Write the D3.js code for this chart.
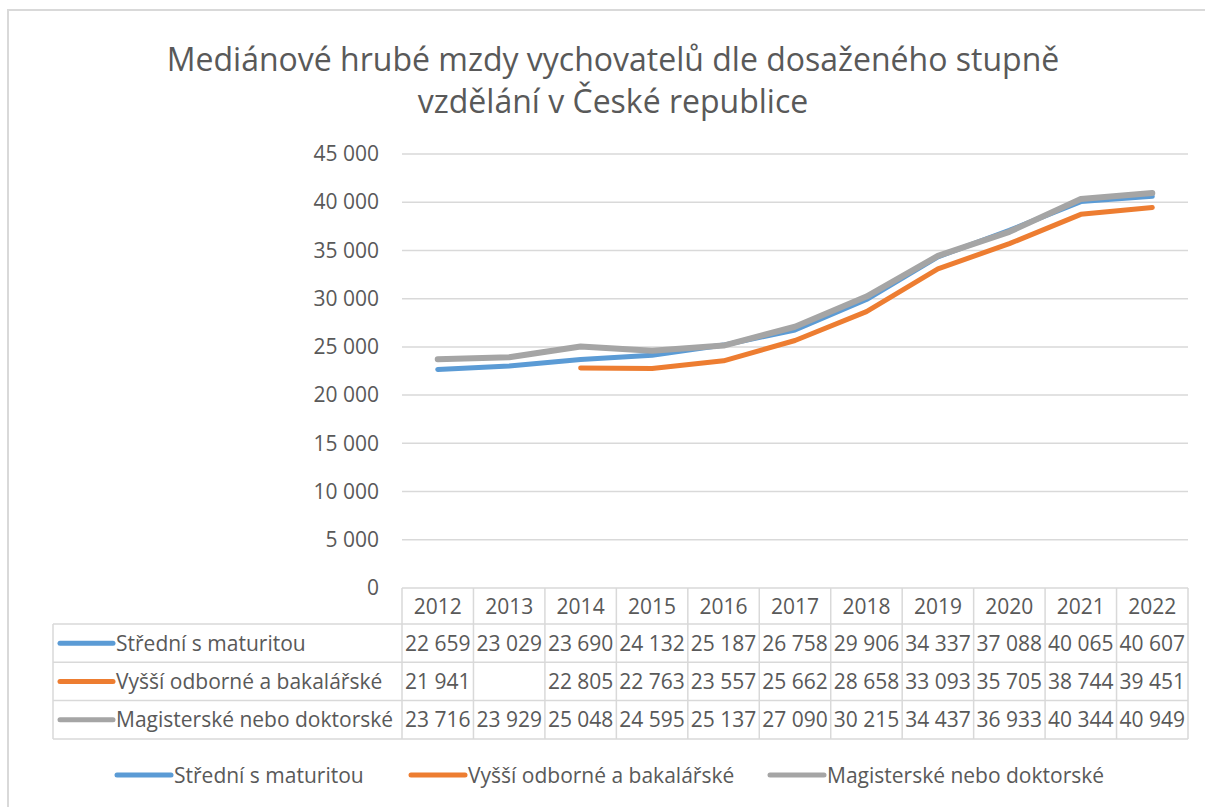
<!DOCTYPE html>
<html>
<head>
<meta charset="utf-8">
<script src="https://cdn.jsdelivr.net/npm/d3@7"></script>
<style>
  body { margin: 0; background: #fff; }
  text { font-family: "Open Sans", sans-serif; fill: #595959; }
</style>
</head>
<body>
<main></main>
<script>
const years = ["2012", "2013", "2014", "2015", "2016", "2017", "2018", "2019", "2020", "2021", "2022"]
const seriesNames = ["Střední s maturitou", "Vyšší odborné a bakalářské", "Magisterské nebo doktorské"]
const stredni = [22659, 23029, 23690, 24132, 25187, 26758, 29906, 34337, 37088, 40065, 40607]
const vyssi = [21941, null, 22805, 22763, 23557, 25662, 28658, 33093, 35705, 38744, 39451]
const magisterske = [23716, 23929, 25048, 24595, 25137, 27090, 30215, 34437, 36933, 40344, 40949]
const colors = ["#5B9BD5", "#ED7D31", "#A5A5A5"]
const yTicks = [0, 5000, 10000, 15000, 20000, 25000, 30000, 35000, 40000, 45000]
const titleLines = ["Mediánové hrubé mzdy vychovatelů dle dosaženého stupně", "vzdělání v České republice"]

const series = [stredni, vyssi, magisterske].map((values, i) => ({
  name: seriesNames[i],
  color: colors[i],
  values: values,
}))

const W = 1205
const H = 807
const plot = { left: 402, right: 1188, top: 154, bottom: 588 }
const headerH = 36
const rowH = 38.3
const tableLeft = 53

const locale = d3.formatLocale({ decimal: ",", thousands: " ", grouping: [3], currency: ["", ""] })
const fmt = locale.format(",d")

const svg = d3.select("main").append("svg").attr("width", W).attr("height", H)

// chart frame
svg.append("path")
  .attr("d", `M8,${H + 5} L8,10 L${W + 5},10`)
  .attr("fill", "none")
  .attr("stroke", "#d9d9d9")
  .attr("stroke-width", 2)

// title
svg.append("g")
  .selectAll("text")
  .data(titleLines)
  .enter()
  .append("text")
  .attr("x", 613)
  .attr("y", (d, i) => 71 + i * 42)
  .attr("text-anchor", "middle")
  .attr("font-size", "32px")
  .text((d) => d)

const x = d3.scaleBand().domain(years).range([plot.left, plot.right])
const y = d3.scaleLinear().domain([0, 45000]).range([plot.bottom, plot.top])

// gridlines
svg.append("g")
  .selectAll("line")
  .data(yTicks.slice(1))
  .enter()
  .append("line")
  .attr("x1", plot.left)
  .attr("x2", plot.right)
  .attr("y1", (d) => y(d))
  .attr("y2", (d) => y(d))
  .attr("stroke", "#d9d9d9")
  .attr("stroke-width", 1.5)

const yAxis = svg.append("g")
  .attr("transform", `translate(${plot.left - 23},0)`)
  .call(d3.axisLeft(y).tickValues(yTicks).tickFormat(fmt).tickSize(0).tickPadding(0))
yAxis.select(".domain").remove()
yAxis.selectAll("text")
  .attr("font-size", "21px")
  .attr("font-family", "Open Sans, sans-serif")
  .attr("fill", "#595959")
  .attr("dy", "0.32em")

// lines (a value with no defined neighbour is not drawn, as in the original)
const hasNeighbour = (arr, i) =>
  arr[i] != null && ((i > 0 && arr[i - 1] != null) || (i < arr.length - 1 && arr[i + 1] != null))

const line = d3.line()
  .x((d, i) => x(years[i]) + x.bandwidth() / 2)
  .y((d) => y(d))

svg.append("g")
  .selectAll("path")
  .data(series)
  .enter()
  .append("path")
  .attr("d", (d) => line.defined((v, i) => hasNeighbour(d.values, i))(d.values))
  .attr("fill", "none")
  .attr("stroke", (d) => d.color)
  .attr("stroke-width", (d, i) => (i === 2 ? 6 : 5))
  .attr("stroke-linecap", "round")
  .attr("stroke-linejoin", "round")

// data table
const table = svg.append("g").attr("class", "table")
const rowY = (k) => (k === 0 ? plot.bottom : plot.bottom + headerH + (k - 1) * rowH)
const tableBottom = rowY(4)
const border = "#d9d9d9"

table.append("line")
  .attr("x1", plot.left).attr("x2", plot.right)
  .attr("y1", plot.bottom).attr("y2", plot.bottom)
  .attr("stroke", border).attr("stroke-width", 1.5)
table.selectAll(".hline")
  .data([1, 2, 3, 4])
  .enter()
  .append("line")
  .attr("class", "hline")
  .attr("x1", tableLeft).attr("x2", plot.right)
  .attr("y1", (d) => rowY(d))
  .attr("y2", (d) => rowY(d))
  .attr("stroke", border).attr("stroke-width", 1.5)

table.selectAll(".vline")
  .data(years.concat(["end"]))
  .enter()
  .append("line")
  .attr("class", "vline")
  .attr("x1", (d, i) => plot.left + i * x.bandwidth())
  .attr("x2", (d, i) => plot.left + i * x.bandwidth())
  .attr("y1", plot.bottom).attr("y2", tableBottom)
  .attr("stroke", border).attr("stroke-width", 1.5)
table.append("line")
  .attr("x1", tableLeft).attr("x2", tableLeft)
  .attr("y1", rowY(1)).attr("y2", tableBottom)
  .attr("stroke", border).attr("stroke-width", 1.5)

table.selectAll(".year")
  .data(years)
  .enter()
  .append("text")
  .attr("class", "year")
  .attr("x", (d) => x(d) + x.bandwidth() / 2)
  .attr("y", plot.bottom + headerH / 2)
  .attr("dy", "0.36em")
  .attr("text-anchor", "middle")
  .attr("font-size", "21px")
  .text((d) => d)

const rows = table.selectAll(".row")
  .data(series)
  .enter()
  .append("g")
  .attr("class", "row")
  .attr("transform", (d, i) => `translate(0,${rowY(i + 1) + rowH / 2})`)

rows.append("line")
  .attr("x1", 60).attr("x2", 113)
  .attr("y1", 0).attr("y2", 0)
  .attr("stroke", (d) => d.color)
  .attr("stroke-width", 5)
  .attr("stroke-linecap", "round")

rows.append("text")
  .attr("x", 116)
  .attr("dy", "0.36em")
  .attr("font-size", "21px")
  .text((d) => d.name)

rows.selectAll(".val")
  .data((d) => d.values)
  .enter()
  .append("text")
  .attr("class", "val")
  .attr("x", (d, i) => x(years[i]) + x.bandwidth() / 2)
  .attr("dy", "0.36em")
  .attr("text-anchor", "middle")
  .attr("font-size", "21px")
  .text((d) => (d == null ? "" : fmt(d)))

// legend
const legendX = [117, 411, 770]
const legend = svg.append("g")
  .selectAll("g")
  .data(series)
  .enter()
  .append("g")
  .attr("transform", (d, i) => `translate(${legendX[i]},775)`)

legend.append("line")
  .attr("x1", 0).attr("x2", 54)
  .attr("stroke", (d) => d.color)
  .attr("stroke-width", 5)
  .attr("stroke-linecap", "round")

legend.append("text")
  .attr("x", 57)
  .attr("dy", "0.36em")
  .attr("font-size", "21px")
  .text((d) => d.name)
</script>
</body>
</html>
